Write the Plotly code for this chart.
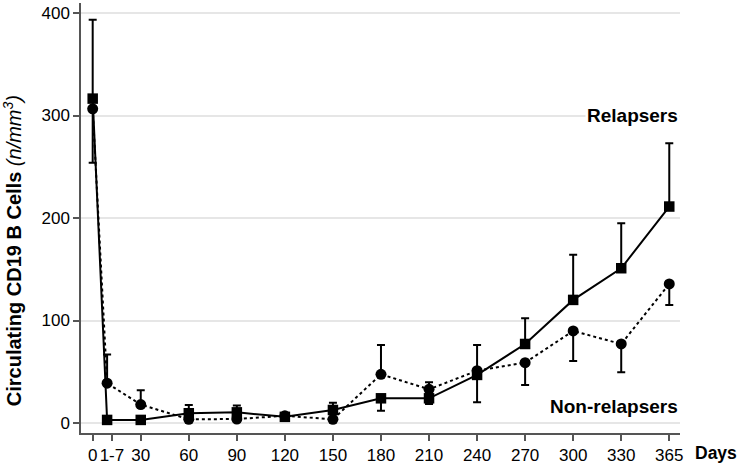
import plotly.graph_objects as go

# Time points (category labels) and their positions on the day axis
tick_labels = ["0", "1-7", "30", "60", "90", "120", "150", "180", "210", "240", "270", "300", "330", "365"]
tick_pos = [0, 12, 30, 60, 90, 120, 150, 180, 210, 240, 270, 300, 330, 360]
point_pos = [0, 9, 30, 60, 90, 120, 150, 180, 210, 240, 270, 300, 330, 360]

# Relapsers (squares, solid)
relapsers = [316.5, 3, 3, 9.5, 10.4, 6, 12.7, 24.1, 24.1, 46.9, 77.1, 120.1, 151, 211.2]
relapsers_err_up = [77, 0, 0, 8, 6.6, 0, 7, 0, 0, 0, 25.1, 44, 44, 61.8]
relapsers_err_down = [0, 0, 0, 0, 0, 0, 0, 12.1, 5.5, 26.7, 0, 0, 0, 0]

# Non-relapsers (circles, dotted)
non_relapsers = [306.6, 38.8, 18, 3.6, 3.9, 7, 3.6, 47.5, 32.9, 51, 58.9, 89.8, 77.1, 135.7]
non_err_up = [0, 28, 14, 0, 0, 0, 0, 28.7, 6.8, 25.2, 0, 0, 0, 0]
non_err_down = [52.7, 0, 0, 0, 0, 0, 0, 0, 0, 0, 21.8, 29.3, 27.6, 20.5]

y_ticks = [0, 100, 200, 300, 400]

FONT = "Liberation Sans, Arial, Helvetica, sans-serif"

fig = go.Figure()

fig.add_trace(go.Scatter(
    x=point_pos, y=non_relapsers, mode="lines+markers", name="Non-relapsers",
    line=dict(color="black", width=2, dash="dot"),
    marker=dict(symbol="circle", size=11, color="black"),
    error_y=dict(type="data", symmetric=False, array=non_err_up, arrayminus=non_err_down,
                 color="black", thickness=2, width=4),
))

fig.add_trace(go.Scatter(
    x=point_pos, y=relapsers, mode="lines+markers", name="Relapsers",
    line=dict(color="black", width=2),
    marker=dict(symbol="square", size=10.5, color="black"),
    error_y=dict(type="data", symmetric=False, array=relapsers_err_up, arrayminus=relapsers_err_down,
                 color="black", thickness=2, width=4),
))

fig.update_layout(
    width=737, height=466,
    margin=dict(l=81, r=57, t=3, b=33),
    plot_bgcolor="white", paper_bgcolor="white",
    showlegend=False,
    font=dict(family=FONT, size=17, color="black"),
    xaxis=dict(
        range=[-7.3, 366.7], tickmode="array", tickvals=tick_pos, ticktext=tick_labels,
        showgrid=False, zeroline=False, showline=True, linecolor="#555", linewidth=1.5,
        ticks="outside", ticklen=6, tickwidth=1.5, tickcolor="#555",
        tickfont=dict(size=17, family=FONT, color="black"), automargin=False,
    ),
    yaxis=dict(
        range=[-9.76, 409.8], tickmode="array", tickvals=y_ticks,
        showgrid=True, gridcolor="#e6e6e6", gridwidth=2, zeroline=False,
        showline=True, linecolor="#555", linewidth=1.5,
        ticks="outside", ticklen=6, tickwidth=1.5, tickcolor="#555",
        tickfont=dict(size=17, family=FONT, color="black"), automargin=False,
    ),
)

fig.add_annotation(
    text="<b>Circulating CD19 B Cells</b> <i>(n/mm<sup>3</sup>)</i>",
    xref="paper", yref="paper", x=-0.115, y=0.423, xanchor="center", yanchor="middle",
    textangle=-90, showarrow=False, font=dict(size=20, family=FONT, color="black"),
)
fig.add_annotation(
    text="<b>Days</b>", xref="paper", yref="paper", x=1.06, y=-0.0465,
    xanchor="center", yanchor="middle", showarrow=False,
    font=dict(size=17.5, family=FONT, color="black"),
)
fig.add_annotation(
    text="<b>Relapsers</b>", xref="paper", yref="y", x=1.0, y=300,
    xanchor="right", yanchor="middle", showarrow=False, bgcolor="white",
    font=dict(size=19, family=FONT, color="black"),
)
fig.add_annotation(
    text="<b>Non-relapsers</b>", xref="paper", yref="y", x=1.0, y=16,
    xanchor="right", yanchor="middle", showarrow=False,
    font=dict(size=19, family=FONT, color="black"),
)

fig.write_html("out.html", config={"displayModeBar": False},
               post_script="document.body.style.margin='0px';")
